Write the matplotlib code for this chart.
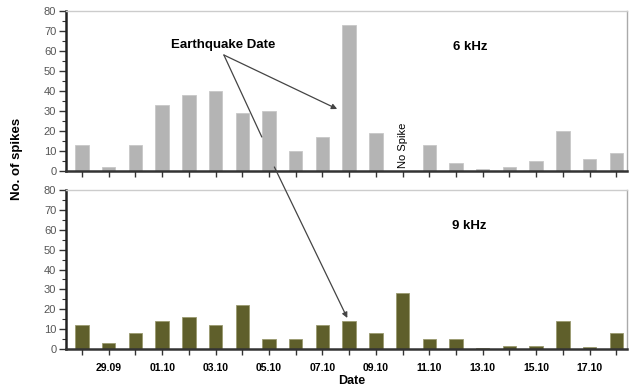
import matplotlib
matplotlib.use("Agg")
import matplotlib.pyplot as plt
from matplotlib.patches import ConnectionPatch
from matplotlib.ticker import MultipleLocator
import numpy as np

dates = ["28.09", "29.09", "30.09", "01.10", "02.10", "03.10", "04.10", "05.10",
         "06.10", "07.10", "08.10", "09.10", "10.10", "11.10", "12.10", "13.10",
         "14.10", "15.10", "16.10", "17.10", "18.10"]
spikes_6khz = [13, 2, 13, 33, 38, 40, 29, 30, 10, 17, 73, 19, 0, 13, 4, 1, 2, 5, 20, 6, 9]
spikes_9khz = [12, 3, 8, 14, 16, 12, 22, 5, 5, 12, 14, 8, 28, 5, 5, 0.6, 1.5, 1.5, 14, 1, 8]
shown_labels = ["", "29.09", "", "01.10", "", "03.10", "", "05.10", "", "07.10", "",
                "09.10", "", "11.10", "", "13.10", "", "15.10", "", "17.10", ""]

plt.rcParams['font.family'] = ['Liberation Sans', 'DejaVu Sans']

fig = plt.figure(figsize=(6.34, 3.89), dpi=100)
W, H = 634, 389
def box(l, t, r, b):
    return [l / W, 1 - b / H, (r - l) / W, (b - t) / H]

ax1 = fig.add_axes(box(66, 11, 627, 171))
ax2 = fig.add_axes(box(66, 190, 627, 349))

x = np.arange(len(dates))
ax1.bar(x, spikes_6khz, width=0.5, color="#b4b4b4", edgecolor="#c8c8c8", linewidth=0.6)
ax2.bar(x, spikes_9khz, width=0.5, color="#5f5f2b", edgecolor="#9a9a70", linewidth=0.6)

for ax in (ax1, ax2):
    ax.set_xlim(-0.6, 20.4)
    ax.set_ylim(0, 80)
    ax.set_xticks(x)
    ax.yaxis.set_major_locator(MultipleLocator(10))
    ax.yaxis.set_minor_locator(MultipleLocator(5))
    ax.tick_params(axis='y', which='major', length=5, width=1, color="#333333",
                   labelsize=8, labelcolor="#555555", pad=2)
    ax.tick_params(axis='y', which='minor', length=3, width=0.8, color="#333333")
    ax.tick_params(axis='x', which='major', length=4, width=1, color="#333333", pad=6)
    ax.spines['left'].set_linewidth(1.8)
    ax.spines['left'].set_color("#222222")
    ax.spines['bottom'].set_linewidth(1.8)
    ax.spines['bottom'].set_color("#333333")
    ax.spines['top'].set_color("#cccccc")
    ax.spines['top'].set_linewidth(1)
    ax.spines['right'].set_color("#aaaaaa")
    ax.spines['right'].set_linewidth(1)

ax1.set_xticklabels([])
ax2.set_xticklabels(shown_labels, fontsize=7.5, fontweight='bold')

# texts
ax1.text(14.55, 62, "6 kHz", fontsize=9.5, fontweight='bold', ha='center', va='center')
ax2.text(14.5, 62, "9 kHz", fontsize=9.5, fontweight='bold', ha='center', va='center')
ax1.text(12, 1.5, "No Spike", rotation=90, fontsize=8, ha='center', va='bottom')
fig.text(17 / W, 1 - 159 / H, "No. of spikes", rotation=90, fontsize=9.5,
         fontweight='bold', ha='center', va='center')
fig.text(352 / W, 1 - 381 / H, "Date", fontsize=9, fontweight='bold',
         ha='center', va='center')

# annotations
ax1.text(5.27, 63, "Earthquake Date", fontsize=9.5, fontweight='bold',
         ha='center', va='center')
ax1.annotate("", xy=(9.55, 31), xytext=(5.31, 58),
             arrowprops=dict(arrowstyle="-|>", color="#444444", lw=0.9,
                             mutation_scale=8, shrinkA=0, shrinkB=0))
ax1.annotate("", xy=(6.73, 17), xytext=(5.31, 58),
             arrowprops=dict(arrowstyle="-", color="#444444", lw=0.9,
                             shrinkA=0, shrinkB=0))
con = ConnectionPatch(xyA=(7.2, 2), coordsA=ax1.transData,
                      xyB=(9.93, 15.6), coordsB=ax2.transData,
                      arrowstyle="-|>", color="#444444", lw=0.9,
                      mutation_scale=8, shrinkA=0, shrinkB=0)
fig.add_artist(con)

fig.savefig("out.png", dpi=100)
